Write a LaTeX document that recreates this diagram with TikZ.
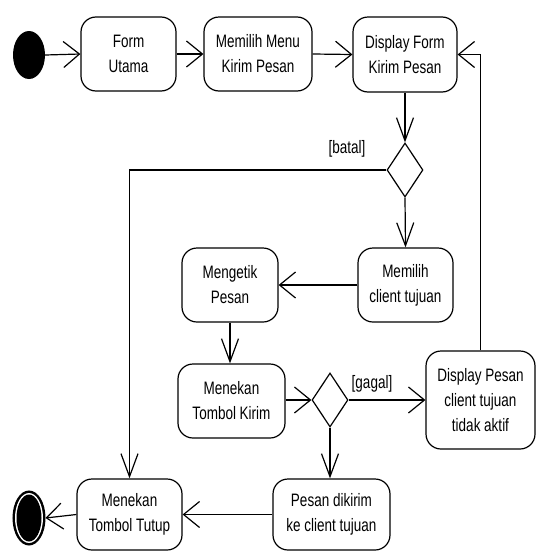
\documentclass[tikz,border=0pt]{standalone}
\usepackage{fontspec}
\usepackage{graphicx}
\setmainfont{Liberation Sans}
\usetikzlibrary{arrows.meta,shapes.geometric}
\newcommand{\sq}[1]{\scalebox{0.75}[1]{#1}}
\tikzset{
  act/.style={draw, line width=1.2pt, rounded corners=15pt, inner sep=0pt,
    align=center, font=\fontsize{18}{25}\selectfont},
  dec/.style={draw, line width=1.2pt, diamond, inner sep=0pt, minimum width=36pt, minimum height=54pt},
  lab/.style={font=\fontsize{18}{22}\selectfont, inner sep=0pt},
  flow/.style={line width=1.2pt},
  harr/.style={flow, -{Straight Barb[length=16pt,width=26pt,line width=1.2pt]}},
  varr/.style={flow, -{Straight Barb[length=23pt,width=17pt,line width=1.2pt]}}
}
\begin{document}
\begin{tikzpicture}[x=1pt,y=-1pt]
\useasboundingbox (0,0) rectangle (537,552);
% start and end
\node (start) [ellipse, fill=black, minimum width=32pt, minimum height=48pt, inner sep=0pt] at (29,55) {};
\node (end) [ellipse, draw, line width=1pt, fill=black, minimum width=32pt, minimum height=54pt, inner sep=0pt] at (29,518) {};
\fill[white] (29,518) ellipse [x radius=14pt, y radius=25pt];
\fill[black] (29,518) ellipse [x radius=12.5pt, y radius=23.5pt];
% activities
\node (fu) [act, minimum width=95pt, minimum height=74pt] at (128.5,54) {\sq{Form}\\\sq{Utama}};
\node (mm) [act, minimum width=108pt, minimum height=74pt] at (258,54) {\sq{Memilih Menu}\\\sq{Kirim Pesan}};
\node (df) [act, minimum width=104pt, minimum height=75pt] at (405,54.5) {\sq{Display Form}\\\sq{Kirim Pesan}};
\node (mc) [act, minimum width=95pt, minimum height=74pt] at (405.5,285) {\sq{Memilih}\\\sq{client tujuan}};
\node (mp) [act, minimum width=96pt, minimum height=74pt] at (230,285) {\sq{Mengetik}\\\sq{Pesan}};
\node (tk) [act, minimum width=107pt, minimum height=74pt] at (231.5,401) {\sq{Menekan}\\\sq{Tombol Kirim}};
\node (dp) [act, minimum width=109pt, minimum height=98pt] at (480.5,400) {\sq{Display Pesan}\\\sq{client tujuan}\\\sq{tidak aktif}};
\node (pd) [act, minimum width=117pt, minimum height=71pt] at (331.5,514.5) {\sq{Pesan dikirim}\\\sq{ke client tujuan}};
\node (tt) [act, minimum width=105pt, minimum height=71pt] at (129.5,514.5) {\sq{Menekan}\\\sq{Tombol Tutup}};
% decisions
\node (d1) [dec] at (405,170) {};
\node (d2) [dec] at (330,400) {};
% guards
\node (gb) [lab] at (347,149) {\sq{[batal]}};
\node (gg) [lab] at (372,384) {\sq{[gagal]}};
% flows
\draw[harr] (start.east) -- (fu.west);
\draw[harr] (fu.east) -- (mm.west);
\draw[harr] (mm.east) -- (df.west);
\draw[varr] (df.south) -- (d1.north);
\draw[varr] (d1.south) -- (mc.north);
\draw[varr] (d1.west) -| (tt.north);
\draw[harr] (mc.west) -- (mp.east);
\draw[varr] (mp.south) -- (mp.south |- tk.north);
\draw[harr] (tk.east |- d2.west) -- (d2.west);
\draw[harr] (d2.east) -- (d2.east -| dp.west);
\draw[varr] (d2.south) -- (d2.south |- pd.north);
\draw[harr] (dp.north) |- (df.east);
\draw[harr] (pd.west) -- (tt.east);
\draw[harr] (tt.west) -- (end.east);
\end{tikzpicture}
\end{document}
